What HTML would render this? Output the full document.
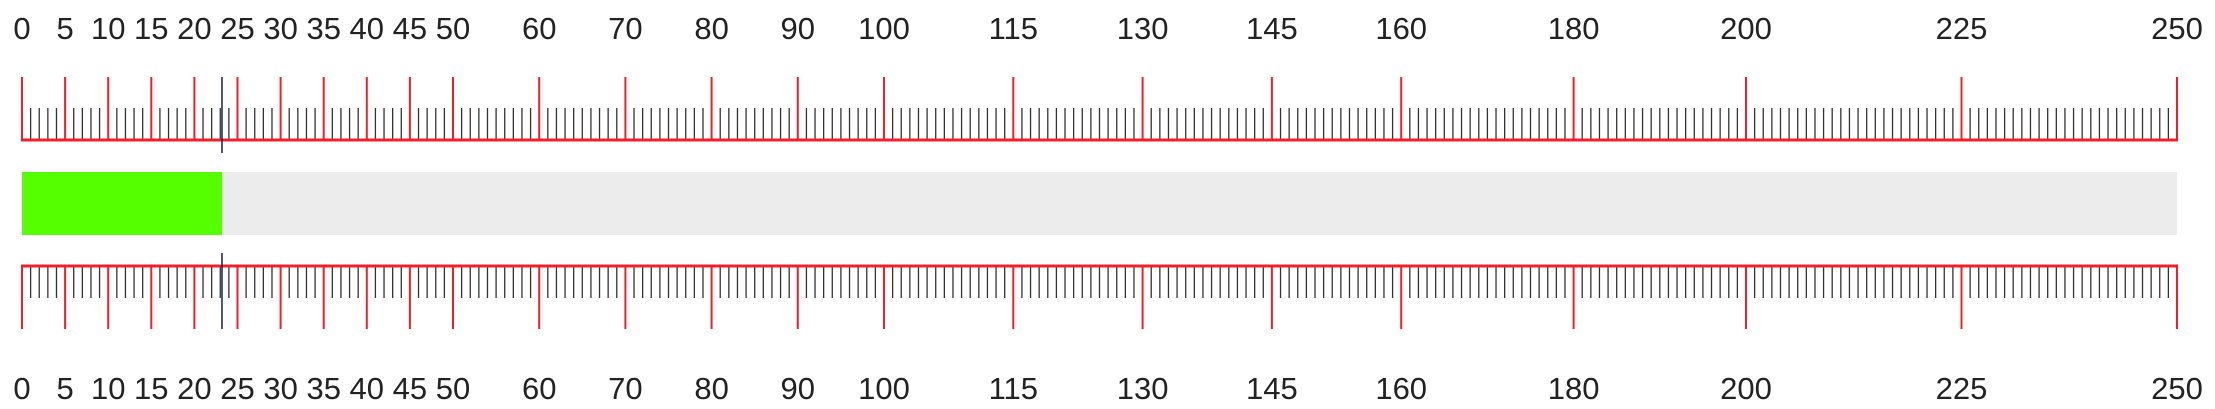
<!DOCTYPE html>
<html><head><meta charset="utf-8"><style>
html,body{margin:0;padding:0;background:#fff;width:2215px;height:409px;overflow:hidden}
svg text{font-family:"Liberation Sans",sans-serif;font-size:31px;fill:#222;text-anchor:middle}
</style></head><body>
<svg id="chart" width="2215" height="409" xmlns="http://www.w3.org/2000/svg"></svg>
<script>
const majorTicks = [0,5,10,15,20,25,30,35,40,45,50,60,70,80,90,100,115,130,145,160,180,200,225,250];
const gaugeMin = [0];
const gaugeMax = [250];
const gaugeValue = [23.2];
const NS='http://www.w3.org/2000/svg';
const svg=document.getElementById('chart');
const x0=22,x1=2177;
function sx(v){return x0+(v-gaugeMin[0])/(gaugeMax[0]-gaugeMin[0])*(x1-x0);}
function mk(tag,attrs,parent){const e=document.createElementNS(NS,tag);for(const k in attrs)e.setAttribute(k,attrs[k]);(parent||svg).appendChild(e);return e;}
// bar background
const bg=mk('rect',{x:x0,y:172,width:x1-x0,height:63,fill:'#ececec'});


const fill=mk('rect',{x:x0,y:172,width:sx(gaugeValue[0])-x0,height:63,fill:'#55ff00'});


function scale(base,dir,name,labelY){
  const g=mk('g',{});
  
  
  for(let v=gaugeMin[0]+1;v<gaugeMax[0];v++){
    if(majorTicks.includes(v))continue;
    const t=mk('line',{x1:sx(v),x2:sx(v),y1:base,y2:base+dir*32,stroke:'#333','stroke-width':1.3},g);
    
    
  }
  majorTicks.forEach(v=>{
    const t=mk('line',{x1:sx(v),x2:sx(v),y1:base,y2:base+dir*63,stroke:'#f0202a','stroke-width':2},g);
    
    
    const l=mk('text',{x:sx(v),y:labelY},g);
    l.textContent=v;
    
    
  });
  const b=mk('line',{x1:x0-1,x2:x1+1,y1:base,y2:base,stroke:'#f0202a','stroke-width':3},g);
  
  
}
scale(140,-1,'top-scale',39);
scale(266,1,'bottom-scale',399);
const mxTop=mk('line',{x1:sx(gaugeValue[0]),x2:sx(gaugeValue[0]),y1:77,y2:153,stroke:'#1a1a5a','stroke-width':1.5});


const mxBot=mk('line',{x1:sx(gaugeValue[0]),x2:sx(gaugeValue[0]),y1:253,y2:329,stroke:'#1a1a5a','stroke-width':1.5});


</script>
</body></html>
